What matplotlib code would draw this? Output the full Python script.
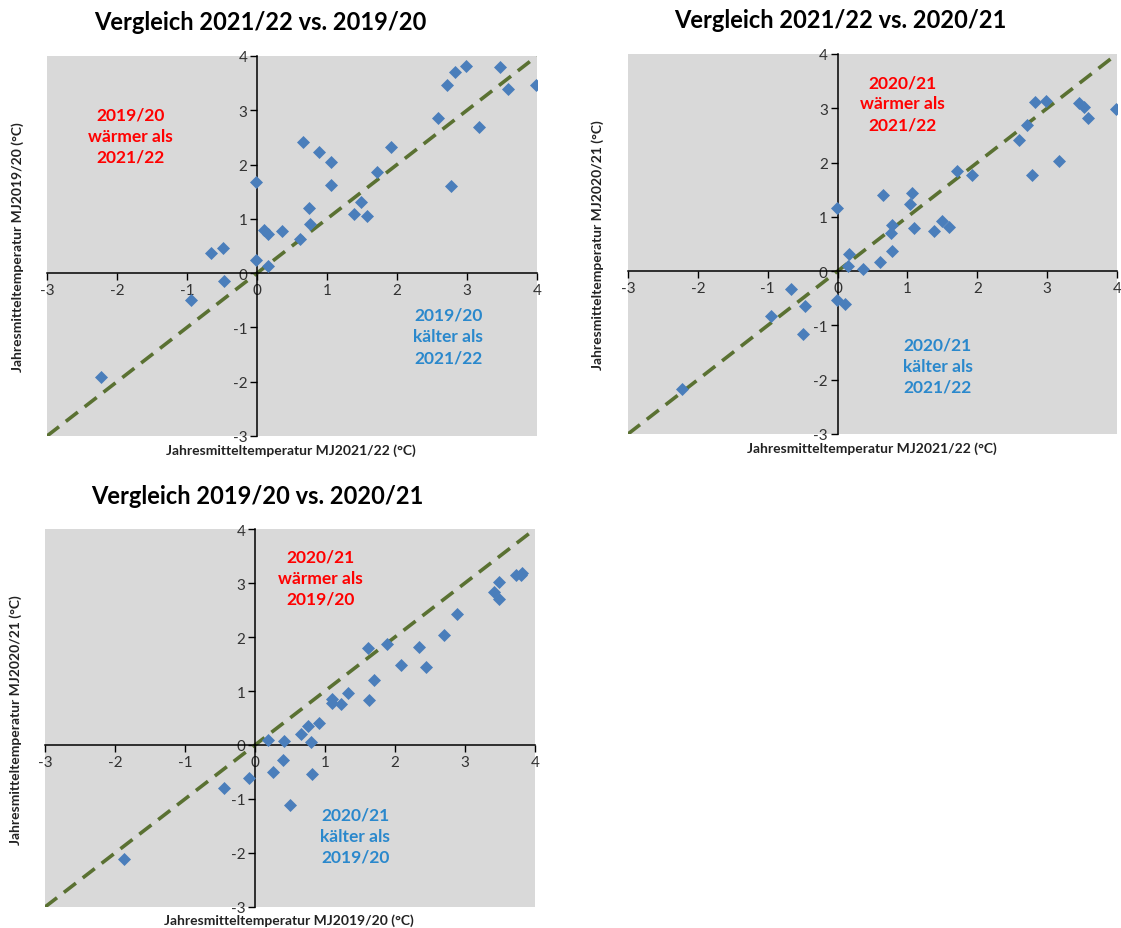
import matplotlib
matplotlib.use("Agg")
import matplotlib.pyplot as plt

plt.rcParams['font.family'] = ['Lato', 'DejaVu Sans']
plt.rcParams['axes.unicode_minus'] = False

# Vergleich 2021/22 (x) vs. 2019/20 (y)
x_2122_a = [-2.23, -0.95, -0.66, -0.49, -0.47, -0.01, -0.01, 0.10, 0.15, 0.16, 0.36,
            0.61, 0.65, 0.74, 0.75, 0.88, 1.06, 1.06, 1.38, 1.48, 1.57, 1.71, 1.92,
            2.59, 2.71, 2.77, 2.83, 2.98, 3.17, 3.47, 3.58, 3.99]
y_1920_a = [-1.92, -0.49, 0.37, 0.47, -0.14, 1.68, 0.24, 0.80, 0.72, 0.13, 0.77,
            0.63, 2.42, 1.20, 0.91, 2.24, 2.05, 1.62, 1.09, 1.31, 1.06, 1.86, 2.32,
            2.85, 3.46, 1.60, 3.70, 3.81, 2.69, 3.79, 3.40, 3.46]

# Vergleich 2021/22 (x) vs. 2020/21 (y)
x_2122_b = [-2.23, -0.95, -0.66, -0.47, -0.49, -0.01, -0.01, 0.11, 0.17, 0.15, 0.36,
            0.61, 0.65, 0.77, 0.78, 0.78, 1.04, 1.06, 1.10, 1.38, 1.49, 1.59,
            1.71, 1.92, 2.59, 2.71, 2.79, 2.83, 2.98, 3.17, 3.46, 3.53, 3.58, 3.98]
y_2021_b = [-2.17, -0.83, -0.33, -0.65, -1.16, 1.17, -0.54, -0.60, 0.32, 0.10, 0.04,
            0.16, 1.41, 0.70, 0.85, 0.37, 1.23, 1.44, 0.80, 0.74, 0.93, 0.82,
            1.84, 1.78, 2.42, 2.69, 1.78, 3.12, 3.14, 2.02, 3.09, 3.03, 2.82, 2.99]

# Vergleich 2019/20 (x) vs. 2020/21 (y)
x_1920_c = [-1.87, -0.45, -0.09, 0.18, 0.25, 0.42, 0.40, 0.50, 0.65, 0.76, 0.80,
            0.81, 0.92, 1.10, 1.10, 1.23, 1.33, 1.61, 1.63, 1.70, 1.89, 2.08,
            2.34, 2.44, 2.70, 2.88, 3.41, 3.48, 3.49, 3.73, 3.80, 3.81]
y_2021_c = [-2.12, -0.79, -0.61, 0.10, -0.50, 0.07, -0.28, -1.11, 0.20, 0.36, 0.06,
            -0.54, 0.41, 0.86, 0.78, 0.76, 0.97, 1.80, 0.83, 1.21, 1.87, 1.48,
            1.82, 1.45, 2.03, 2.43, 2.83, 3.02, 2.70, 3.15, 3.14, 3.18]

ticks = [-3, -2, -1, 0, 1, 2, 3, 4]

W, H = 1121, 929
RED = '#ff0000'
BLUE = '#2a88cc'
MARK = '#4a7ebb'
LINE = '#5a7132'


def px_axes(fig, left, top, right, bottom):
    return fig.add_axes([left / W, 1 - bottom / H, (right - left) / W, (bottom - top) / H])


def draw_panel(ax, x, y, warm_txt, cold_txt, warm_pos, cold_pos):
    ax.set_facecolor('#d9d9d9')
    ax.set_xlim(-3, 4)
    ax.set_ylim(-3, 4)
    ax.plot([-3, 4], [-3, 4], color=LINE, lw=2.6, dashes=(4.2, 2.4), zorder=2)
    ax.scatter(x, y, marker='D', s=44, color=MARK, zorder=3, linewidths=0)
    for side in ['top', 'right']:
        ax.spines[side].set_visible(False)
    ax.spines['left'].set_position(('data', 0))
    ax.spines['bottom'].set_position(('data', 0))
    ax.spines['left'].set_linewidth(1.1)
    ax.spines['bottom'].set_linewidth(1.1)
    ax.set_xticks(ticks)
    ax.set_yticks(ticks)
    ax.tick_params(direction='out', length=5, width=1, labelsize=11, labelcolor='#333333', pad=2)
    ax.text(*warm_pos, warm_txt, color=RED, fontsize=12.5, fontweight='bold',
            ha='center', va='center', linespacing=1.4)
    ax.text(*cold_pos, cold_txt, color=BLUE, fontsize=12.5, fontweight='bold',
            ha='center', va='center', linespacing=1.4)


fig = plt.figure(figsize=(W / 100, H / 100), dpi=100)

ax1 = px_axes(fig, 47, 57, 537, 437)
draw_panel(ax1, x_2122_a, y_1920_a,
           '2019/20\nwärmer als\n2021/22', '2019/20\nkälter als\n2021/22',
           (-1.81, 2.53), (2.73, -1.16))
ax2 = px_axes(fig, 628, 55, 1117, 435)
draw_panel(ax2, x_2122_b, y_2021_b,
           '2020/21\nwärmer als\n2021/22', '2020/21\nkälter als\n2021/22',
           (0.93, 3.09), (1.43, -1.74))
ax3 = px_axes(fig, 45, 530, 535, 908)
draw_panel(ax3, x_1920_c, y_2021_c,
           '2020/21\nwärmer als\n2019/20', '2020/21\nkälter als\n2019/20',
           (0.94, 3.10), (1.43, -1.68))


def ftext(xp, yp, s, **kw):
    fig.text(xp / W, 1 - yp / H, s, ha='center', va='center', **kw)


ftext(260, 22, 'Vergleich 2021/22 vs. 2019/20', fontsize=17, fontweight='bold')
ftext(840, 20, 'Vergleich 2021/22 vs. 2020/21', fontsize=17, fontweight='bold')
ftext(257, 497, 'Vergleich 2019/20 vs. 2020/21', fontsize=17, fontweight='bold')

lab = dict(fontsize=10, fontweight='bold', color='#222222')
ftext(291, 451, 'Jahresmitteltemperatur MJ2021/22 (°C)', **lab)
ftext(872, 449, 'Jahresmitteltemperatur MJ2021/22 (°C)', **lab)
ftext(289, 921, 'Jahresmitteltemperatur MJ2019/20 (°C)', **lab)

ftext(18, 247, 'Jahresmitteltemperatur MJ2019/20 (°C)', rotation=90, **lab)
ftext(598, 245, 'Jahresmitteltemperatur MJ2020/21 (°C)', rotation=90, **lab)
ftext(16, 720, 'Jahresmitteltemperatur MJ2020/21 (°C)', rotation=90, **lab)

fig.savefig('out.png', dpi=100, facecolor='white')
